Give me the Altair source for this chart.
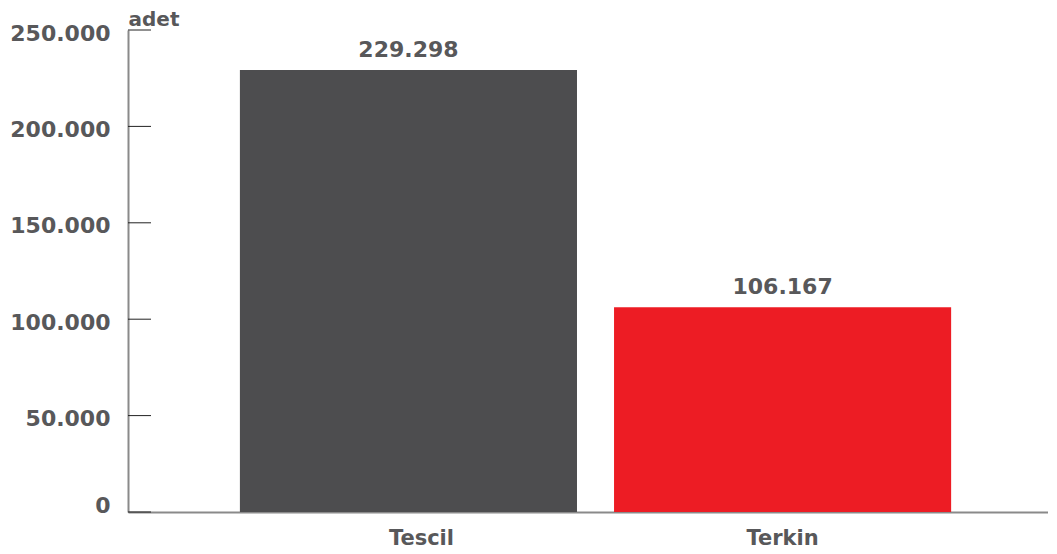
import altair as alt
import pandas as pd

categories = ["Tescil", "Terkin"]
values = [229298, 106167]
colors = ["#4D4D4F", "#ED1C24"]
labels = [f"{v:,}".replace(",", ".") for v in values]
y_ticks = [0, 50000, 100000, 150000, 200000, 250000]

FONT = "DejaVu Sans"
TXT = "#58585A"
FS = 22

df = pd.DataFrame({"cat": categories, "value": values, "label": labels})
ticks_df = pd.DataFrame({"t": y_ticks})

x_enc = alt.X(
    "cat:N",
    sort=categories,
    scale=alt.Scale(paddingInner=0.099, paddingOuter=0.279, align=0.536),
    axis=alt.Axis(
        title=None, labelAngle=0, ticks=False, labelPadding=15,
        labelOffset={"condition": {"test": "datum.value == 'Tescil'", "value": 13}, "value": 0},
        labelFont=FONT, labelFontSize=21, labelFontWeight="bold", labelColor=TXT,
        domainColor="#8A8A8A", domainWidth=2,
    ),
)
y_enc = alt.Y(
    "value:Q",
    scale=alt.Scale(domain=[0, 250000], nice=False),
    axis=alt.Axis(
        values=y_ticks, grid=False, ticks=False, labelPadding=18,
        labelExpr="replace(format(datum.value, ','), ',', '.')",
        labelFont=FONT, labelFontSize=FS, labelFontWeight="bold", labelColor=TXT,
        labelBaseline={"condition": {"test": "datum.value == 0", "value": "alphabetic"}, "value": "middle"},
        labelOffset={"condition": {"test": "datum.value == 0", "value": 0}, "value": 3},
        domainColor="#8A8A8A", domainWidth=2,
        title="adet", titleAngle=0, titleX=0, titleY=-5, titleAlign="left",
        titleBaseline="alphabetic", titleFont=FONT, titleFontSize=20,
        titleFontWeight="bold", titleColor=TXT,
    ),
)

bars = alt.Chart(df).mark_bar().encode(
    x=x_enc,
    y=y_enc,
    color=alt.Color("cat:N", scale=alt.Scale(domain=categories, range=colors), legend=None),
)

text = alt.Chart(df).mark_text(
    dy=-13, baseline="alphabetic", font=FONT, fontSize=FS, fontWeight="bold", color=TXT
).encode(x=alt.X("cat:N", sort=categories), y="value:Q", text="label:N")

tick_marks = alt.Chart(ticks_df).mark_rule(color="#222222", strokeWidth=1).encode(
    y="t:Q", x=alt.value(0), x2=alt.value(23)
)

chart = (
    alt.layer(bars, text, tick_marks)
    .properties(
        width=920, height=482,
        autosize=alt.AutoSizeParams(type="none"),
        padding={"left": 120, "top": 22, "right": 0, "bottom": 38},
    )
    .configure_view(stroke=None)
)

chart.save("out.html", embed_options={"renderer": "svg", "actions": False})
